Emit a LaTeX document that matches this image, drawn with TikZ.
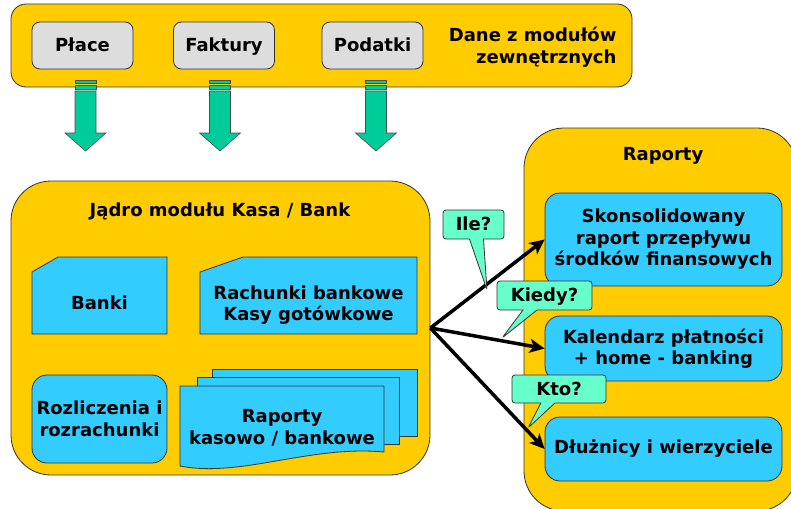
\documentclass[tikz,border=0pt]{standalone}
\usepackage{fontspec}
\setmainfont{DejaVu Sans}
\usepackage{xcolor}
\usetikzlibrary{shapes,arrows,positioning,calc,arrows.meta}

\definecolor{kasaYellow}{HTML}{FFCC00}
\definecolor{kasaBlue}{HTML}{33CCFF}
\definecolor{kasaGrey}{HTML}{DDDDDD}
\definecolor{kasaGreen}{HTML}{00CC99}
\definecolor{kasaMint}{HTML}{66FFCC}

\tikzset{
    base/.style={font=\bfseries\fontsize{18}{21.5}\selectfont, align=center},
    frame/.style={fill=kasaYellow, draw=black!80, line width=0.8pt},
    module/.style={base, fill=kasaGrey, draw=black!80, line width=0.8pt, rounded corners=8pt, minimum width=101pt, minimum height=47pt, text height=13pt, text depth=1pt},
    card/.style={base, fill=kasaBlue, draw=black!80, line width=0.8pt, rounded corners=15pt, minimum width=237pt},
    sheet/.style={fill=kasaBlue, draw=black!80, line width=0.8pt},
    bubble/.style={base, rectangle callout, fill=kasaMint, draw=black!80, line width=0.8pt, rounded corners=3pt, callout pointer width=14pt, inner sep=1pt, text height=13pt, text depth=1pt},
    flow/.style={line width=3.5pt, -{Stealth[length=15pt,width=14pt,inset=4pt]}},
    feed/.style={fill=kasaGreen, draw=black!70, line width=0.6pt}
}

\begin{document}
\begin{tikzpicture}[x=1pt, y=-1pt]
    \useasboundingbox (0,0) rectangle (791,508);
    \clip (0,0) rectangle (791,508);

    % external modules
    \node[frame, rounded corners=15pt, minimum width=621pt, minimum height=83pt] (dane) at (321.5,45.5) {};
    \node[module] (place) at (82.5,45.5) {Płace};
    \node[module] (faktury) at (224,45.5) {Faktury};
    \node[module] (podatki) at (372.5,45.5) {Podatki};
    \node[base, align=right, anchor=east] (daneLabel) at (620,47) {Dane z modułów\\zewnętrznych};

    \foreach \x in {85.5,220,376} {
        \draw[feed] (\x-10.5,80) rectangle (\x+10.5,83);
        \draw[feed] (\x-10.5,85) rectangle (\x+10.5,89);
        \draw[feed] (\x-10.5,91) -- (\x+10.5,91) -- (\x+10.5,133) -- (\x+20.5,133)
            -- (\x,151) -- (\x-20.5,133) -- (\x-10.5,133) -- cycle;
    }

    % core
    \node[frame, rounded corners=40pt, minimum width=419pt, minimum height=294pt] (jadro) at (220.5,328) {};
    \node[base] (jadroLabel) at (220,211) {Jądro modułu Kasa / Bank};

    \draw[sheet] (32,272) -- (58,257) -- (167,257) -- (167,334) -- (32,334) -- cycle;
    \node[base] (banki) at (99.5,303) {Banki};
    \draw[sheet] (200,272) -- (243,257) -- (417,257) -- (417,334) -- (200,334) -- cycle;
    \node[base] (rachunki) at (308.5,305) {Rachunki bankowe\\Kasy gotówkowe};

    \node[card, minimum width=135pt, minimum height=88pt] (rozliczenia) at (99.5,419) {Rozliczenia i\\rozrachunki};

    \draw[sheet] (212,369) rectangle (417,436);
    \draw[sheet] (197,377) rectangle (399,444);
    \draw[sheet] (180,386) -- (384,386) -- (384,452) .. controls (310,445) and (240,478) .. (180,466) -- cycle;
    \node[base] (kasowo) at (282,428) {Raporty\\kasowo / bankowe};

    % reports
    \node[frame, rounded corners=40pt, minimum width=273pt, minimum height=383pt] (raporty) at (660.5,319.5) {};
    \node[base] (raportyLabel) at (663,156) {Raporty};
    \node[card, minimum height=93pt] (skons) at (663.5,239.5) {Skonsolidowany\\raport przepływu\\środków finansowych};
    \node[card, minimum height=65pt] (kalendarz) at (663.5,348.5) {Kalendarz płatności\\+ home - banking};
    \node[card, minimum height=64pt] (dluznicy) at (663.5,449) {Dłużnicy i wierzyciele};

    \draw[flow] (jadro.east) -- (skons.west);
    \draw[flow] (jadro.east) -- (kalendarz.west);
    \draw[flow] (jadro.east) -- (dluznicy.west);

    \node[bubble, minimum width=61pt, minimum height=29pt, callout absolute pointer={(487,290)}] (ile) at (473.5,224.5) {Ile?};
    \node[bubble, minimum width=95pt, minimum height=29pt, callout absolute pointer={(502,338)}] (kiedy) at (544.5,295.5) {Kiedy?};
    \node[bubble, minimum width=94pt, minimum height=28pt, callout absolute pointer={(528,428)}] (kto) at (559,389) {Kto?};
\end{tikzpicture}
\end{document}
